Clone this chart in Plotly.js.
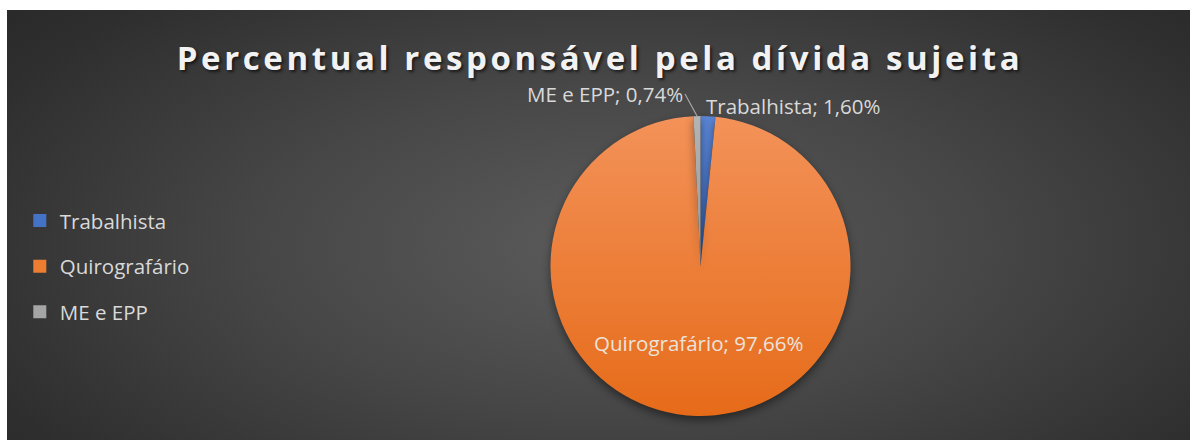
<!DOCTYPE html>
<html>
<head>
<meta charset="utf-8">
<script src="https://cdn.plot.ly/plotly-3.0.1.min.js"></script>
<style>
  html, body { margin: 0; padding: 0; background: #ffffff; }
  #wrap { position: relative; width: 1200px; height: 440px; overflow: hidden; }
  #bg { position: absolute; left: 7px; top: 10px; width: 1183px; height: 430px;
        background: radial-gradient(ellipse 75% 95% at 52% 55%, #5c5c5c 0%, #474747 40%, #2e2e2e 80%, #262626 100%); }
  #chart { position: absolute; left: 0; top: 0; width: 1200px; height: 440px; }
  .gtitle { letter-spacing: 3.6px; }
  .pielayer .slice path.surface { filter: drop-shadow(0px 4px 4px rgba(0,0,0,0.45)); }
</style>
</head>
<body>
<div id="wrap"><div id="bg"></div><div id="chart"></div></div>
<script>
const categories = ["Trabalhista", "Quirografário", "ME e EPP"];
const values = [1.60, 97.66, 0.74];
const colors = ["#4472c4", "#ed7d31", "#a5a5a5"];
const gradTop = ["#5b86d6", "#f39259", "#b4b4b4"];
const gradBottom = ["#3a66b8", "#e66b19", "#979797"];
const chartTitle = "Percentual responsável pela dívida sujeita";

const FONT = "Open Sans, Noto Sans, sans-serif";
const W = 1200, H = 440;
const domX = [0.4583, 0.7092], domY = [0.0545, 0.7364];

// label placement per slice (style/position, not data)
const labelStyle = [
  { rFrac: 1.0, ax: -4, ay: -10, xanchor: "left", arrow: false, color: "#d9d9d9" },
  { rFrac: 0.515, ax: 0, ay: 0, xanchor: "center", arrow: false, color: "#ebe3dc" },
  { rFrac: 1.0, ax: -12, ay: -22, xanchor: "right", arrow: true, color: "#d9d9d9" }
];

const total = values.reduce((a, b) => a + b, 0);
const cxPx = (domX[0] + domX[1]) / 2 * W;
const cyPx = H - (domY[0] + domY[1]) / 2 * H;
const rPx = Math.min((domX[1] - domX[0]) * W, (domY[1] - domY[0]) * H) / 2;

let cum = 0;
const annotations = values.map((v, i) => {
  const mid = (cum + v / 2) / total * 2 * Math.PI; cum += v;
  const s = labelStyle[i];
  const px = cxPx + s.rFrac * rPx * Math.sin(mid);
  const py = cyPx - s.rFrac * rPx * Math.cos(mid);
  const pct = (v / total * 100).toFixed(2).replace(".", ",") + "%";
  const a = {
    xref: "paper", yref: "paper",
    x: px / W, y: (H - py) / H,
    text: categories[i] + "; " + pct,
    font: { family: FONT, size: 20.5, color: s.color },
    showarrow: true, arrowhead: 0, arrowwidth: 1.2,
    arrowcolor: s.arrow ? "#a6a6a6" : "rgba(0,0,0,0)",
    ax: s.ax, ay: s.ay, xanchor: s.xanchor, yanchor: "middle",
    standoff: 0, startstandoff: 0
  };
  if (!s.arrow && s.ax === 0 && s.ay === 0) { a.showarrow = false; }
  return a;
});

const pie = {
  type: "pie",
  labels: categories,
  values: values,
  sort: false,
  direction: "clockwise",
  rotation: 0,
  marker: { colors: colors, line: { width: 0 } },
  textinfo: "none",
  domain: { x: domX, y: domY },
  showlegend: false,
  hoverinfo: "label+percent"
};

const legendTraces = categories.map((c, i) => ({
  type: "scatter",
  mode: "markers",
  x: [null], y: [null],
  name: c,
  legendgroup: "g" + i,
  marker: { symbol: "square", size: 13, color: colors[i] },
  showlegend: true,
  hoverinfo: "skip"
}));

const layout = {
  width: W, height: H,
  margin: { l: 0, r: 0, t: 0, b: 0 },
  paper_bgcolor: "rgba(0,0,0,0)",
  plot_bgcolor: "rgba(0,0,0,0)",
  separators: ",.",
  title: {
    text: "<b>" + chartTitle + "</b>",
    x: 0.5, xanchor: "center",
    y: 0.867, yanchor: "middle",
    font: { family: FONT, size: 33, color: "#f2f2f2", shadow: "2px 2px 3px rgba(0,0,0,0.6)" }
  },
  xaxis: { visible: false, domain: [0, 0.1] },
  yaxis: { visible: false, domain: [0, 0.1] },
  showlegend: true,
  legend: {
    x: 0.0165, xanchor: "left",
    y: 0.395, yanchor: "middle",
    font: { family: FONT, size: 20.5, color: "#d9d9d9" },
    tracegroupgap: 16,
    traceorder: "grouped",
    bgcolor: "rgba(0,0,0,0)",
    itemclick: false, itemdoubleclick: false
  },
  annotations: annotations
};

Plotly.newPlot("chart", [pie].concat(legendTraces), layout, { displayModeBar: false, staticPlot: true }).then(gd => {
  const svgNS = "http://www.w3.org/2000/svg";
  const svg = gd.querySelector("svg.main-svg");
  let defs = svg.querySelector("defs");
  if (!defs) { defs = document.createElementNS(svgNS, "defs"); svg.insertBefore(defs, svg.firstChild); }
  colors.forEach((c, i) => {
    const g = document.createElementNS(svgNS, "linearGradient");
    g.setAttribute("id", "sliceGrad" + i);
    g.setAttribute("x1", "0"); g.setAttribute("y1", "0");
    g.setAttribute("x2", "0"); g.setAttribute("y2", "1");
    [[0, gradTop[i]], [1, gradBottom[i]]].forEach(([o, col]) => {
      const st = document.createElementNS(svgNS, "stop");
      st.setAttribute("offset", o); st.setAttribute("stop-color", col);
      g.appendChild(st);
    });
    defs.appendChild(g);
  });
  gd.querySelectorAll(".pielayer .slice path.surface").forEach((p, i) => {
    p.style.fill = "url(#sliceGrad" + i + ")";
  });
});
</script>
</body>
</html>
